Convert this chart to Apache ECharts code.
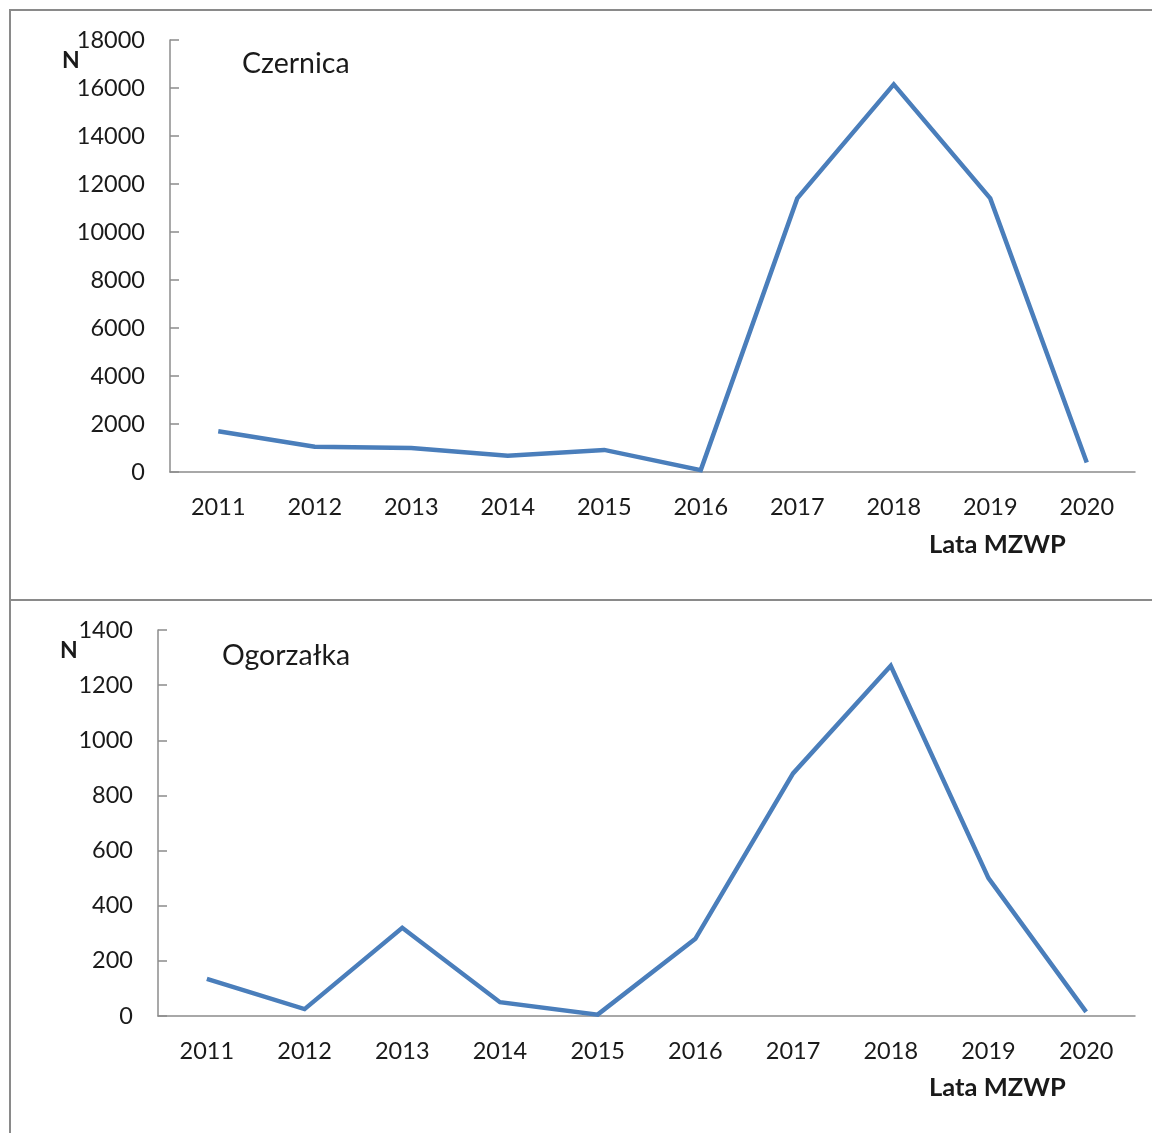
<!DOCTYPE html>
<html>
<head>
<meta charset="utf-8">
<style>
  html, body { margin: 0; padding: 0; background: #ffffff; }
  #chart { width: 1152px; height: 1133px; }
</style>
<script src="https://cdn.jsdelivr.net/npm/echarts@6/dist/echarts.min.js"></script>
</head>
<body>
<div id="chart"></div>
<script>
// Years of observation (shared by both panels)
const years = ['2011', '2012', '2013', '2014', '2015', '2016', '2017', '2018', '2019', '2020'];

// Counts (N) per year
const czernica = [1700, 1050, 1000, 680, 920, 80, 11400, 16150, 11400, 400];
const ogorzalka = [135, 25, 320, 50, 5, 280, 880, 1270, 500, 15];

// Panel titles and axis captions
const titleTop = 'Czernica';
const titleBottom = 'Ogorzałka';
const yCaption = 'N';
const xCaption = 'Lata MZWP';

const FONT = 'Lato';
const TEXT = '#1a1a1a';
const AXIS = '#8c8c8c';
const LINE = '#4a7ebb';

function xAxisFor(gridIndex) {
  return {
    type: 'category',
    gridIndex,
    data: years,
    boundaryGap: true,
    axisLine: { lineStyle: { color: AXIS, width: 1.5 } },
    axisTick: { inside: true, length: 9, lineStyle: { color: AXIS, width: 1.5 } },
    axisLabel: { color: TEXT, fontFamily: FONT, fontSize: 23.5, margin: 23 },
    splitLine: { show: false }
  };
}

function yAxisFor(gridIndex, max, interval) {
  return {
    type: 'value',
    gridIndex,
    min: 0,
    max,
    interval,
    axisLine: { show: true, lineStyle: { color: AXIS, width: 1.5 } },
    axisTick: { show: true, inside: true, length: 9, lineStyle: { color: AXIS, width: 1.5 } },
    axisLabel: {
      color: TEXT, fontFamily: FONT, fontSize: 23.5, margin: 25,
      formatter: (v) => String(v)
    },
    splitLine: { show: false }
  };
}

function lineSeries(idx, data) {
  return {
    type: 'line',
    xAxisIndex: idx,
    yAxisIndex: idx,
    data,
    symbol: 'none',
    smooth: false,
    lineStyle: { color: LINE, width: 4.5, join: 'miter' },
    animation: false
  };
}

const chart = echarts.init(document.getElementById('chart'), null, { renderer: 'canvas' });

chart.setOption({
  backgroundColor: '#ffffff',
  animation: false,
  grid: [
    { left: 170, top: 40, right: 17, height: 432 },
    { left: 158, top: 630, right: 17, height: 386 }
  ],
  xAxis: [xAxisFor(0), xAxisFor(1)],
  yAxis: [yAxisFor(0, 18000, 2000), yAxisFor(1, 1400, 200)],
  series: [lineSeries(0, czernica), lineSeries(1, ogorzalka)],
  graphic: [
    // panel frames
    { type: 'polyline', shape: { points: [[1160, 10], [10, 10], [10, 600], [1160, 600]] },
      style: { stroke: '#8a8a8a', lineWidth: 2, fill: null }, silent: true },
    { type: 'polyline', shape: { points: [[10, 1140], [10, 600]] },
      style: { stroke: '#8a8a8a', lineWidth: 2, fill: null }, silent: true },
    // panel titles
    { type: 'text', left: 242, top: 49,
      style: { text: titleTop, fontFamily: FONT, fontSize: 28.5, fill: TEXT } },
    { type: 'text', left: 222, top: 641,
      style: { text: titleBottom, fontFamily: FONT, fontSize: 28.5, fill: TEXT } },
    // y captions
    { type: 'text', left: 62, top: 49,
      style: { text: yCaption, fontFamily: FONT, fontWeight: 'bold', fontSize: 23, fill: TEXT } },
    { type: 'text', left: 60, top: 639,
      style: { text: yCaption, fontFamily: FONT, fontWeight: 'bold', fontSize: 23, fill: TEXT } },
    // x captions
    { type: 'text', left: 929, top: 532,
      style: { text: xCaption, fontFamily: FONT, fontWeight: 'bold', fontSize: 25.5, fill: TEXT } },
    { type: 'text', left: 929, top: 1075,
      style: { text: xCaption, fontFamily: FONT, fontWeight: 'bold', fontSize: 25.5, fill: TEXT } }
  ]
});
</script>
</body>
</html>
